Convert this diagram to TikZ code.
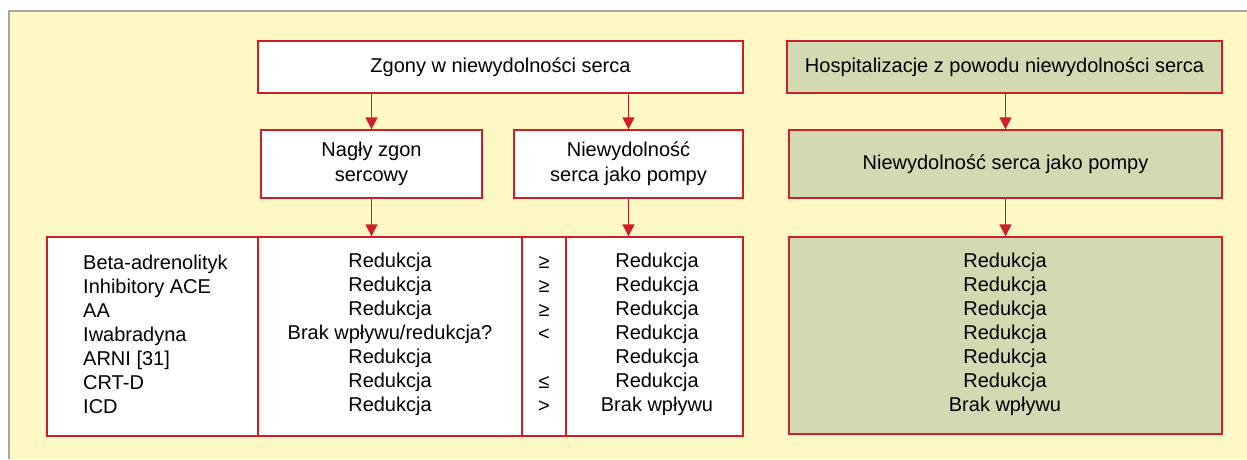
\documentclass[tikz,border=0pt]{standalone}
\usepackage{fontspec}
\setmainfont{Liberation Sans}
\usetikzlibrary{arrows.meta}
\definecolor{bgyellow}{HTML}{FEF8C4}
\definecolor{boxred}{HTML}{CC1F2A}
\definecolor{boxgreen}{HTML}{D3D9B0}
\definecolor{framegrey}{HTML}{A6A6A6}
\begin{document}
\begin{tikzpicture}[x=1pt,y=-1pt,
  box/.style={draw=boxred, line width=1.4pt, fill=white, inner sep=0pt, align=center,
    font=\fontsize{20}{25}\selectfont},
  gbox/.style={box, fill=boxgreen},
  txt/.style={inner sep=0pt, font=\fontsize{20}{24}\selectfont},
  tline/.style={draw=boxred, line width=1.4pt},
  arr/.style={draw=boxred, line width=1.4pt, -{Triangle[length=12pt,width=12pt]}}]
\useasboundingbox (0,0) rectangle (1247,459);
\fill[white] (0,0) rectangle (1247,459);
\fill[bgyellow] (9,11) rectangle (1247,459);
\draw[framegrey, line width=2pt] (9,459) -- (9,11) -- (1247,11);
% left part
\node[box, minimum width=485pt, minimum height=52pt] (top) at (500.5,67) {Zgony w niewydolności serca};
\node[box, minimum width=221pt, minimum height=68pt] (nz) at (371.5,164) {Nagły zgon\\sercowy};
\node[box, minimum width=229pt, minimum height=68pt] (np) at (628.5,164) {Niewydolność\\serca jako pompy};
\node[box, minimum width=696pt, minimum height=199pt] (tbl) at (395,336.5) {};
\coordinate (c1n) at (258,237); \coordinate (c1s) at (258,436);
\coordinate (c2n) at (522,237); \coordinate (c2s) at (522,436);
\coordinate (c3n) at (566,237); \coordinate (c3s) at (566,436);
\draw[tline] (c1n) -- (c1s);
\draw[tline] (c2n) -- (c2s);
\draw[tline] (c3n) -- (c3s);
\draw[arr] (top.south -| nz.north) -- (nz.north);
\draw[arr] (top.south -| np.north) -- (np.north);
\draw[arr] (nz.south) -- (nz.south |- tbl.north);
\draw[arr] (np.south) -- (np.south |- tbl.north);
\node[txt, anchor=west, align=left] (drugs) at (83,334) {Beta-adrenolityk\\Inhibitory ACE\\AA\\Iwabradyna\\ARNI [31]\\CRT-D\\ICD};
\node[txt, align=center] (sud) at (390,334) {Redukcja\\Redukcja\\Redukcja\\Brak wpływu/redukcja?\\Redukcja\\Redukcja\\Redukcja};
\node[txt, align=center] (cmp) at (544,334) {≥\\≥\\≥\\<\\\strut\\≤\\>};
\node[txt, align=center] (pump) at (657,334) {Redukcja\\Redukcja\\Redukcja\\Redukcja\\Redukcja\\Redukcja\\Brak wpływu};
% right part
\node[gbox, minimum width=435pt, minimum height=52pt] (hosp) at (1004.5,67) {Hospitalizacje z powodu niewydolności serca};
\node[gbox, minimum width=433pt, minimum height=68pt] (gp) at (1005.5,164) {Niewydolność serca jako pompy};
\node[gbox, minimum width=433pt, minimum height=197pt] (gtbl) at (1005.5,335.5) {};
\draw[arr] (hosp.south -| gp.north) -- (gp.north);
\draw[arr] (gp.south) -- (gtbl.north);
\node[txt, align=center] (hres) at (1005,334) {Redukcja\\Redukcja\\Redukcja\\Redukcja\\Redukcja\\Redukcja\\Brak wpływu};
\end{tikzpicture}
\end{document}
